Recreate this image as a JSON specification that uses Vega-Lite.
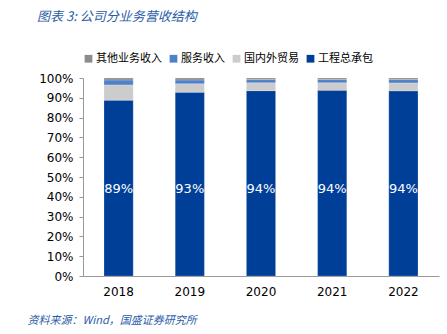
{
  "$schema": "https://vega.github.io/schema/vega-lite/v6.json",
  "width": 356,
  "height": 198,
  "autosize": {"type": "none"},
  "padding": {"left": 83, "top": 78, "right": 8, "bottom": 58},
  "background": "white",
  "config": {
    "view": {"stroke": null},
    "font": "DejaVu Sans",
    "axisY": {
      "labelOverlap": false,
      "grid": false,
      "domainColor": "#999999",
      "tickColor": "#999999",
      "tickSize": 4,
      "labelFontSize": 12,
      "labelColor": "#000000",
      "labelPadding": 6
    }
  },
  "title": {
    "text": "图表 3:  公司分业务营收结构",
    "anchor": "start",
    "frame": "group",
    "dx": -46,
    "offset": 29,
    "font": "Noto Sans CJK SC",
    "fontSize": 13,
    "fontStyle": "italic",
    "fontWeight": "normal",
    "color": "#2B5DA8"
  },
  "data": {
    "values": [
      {"year": "2018", "cat": "工程总承包", "v": 0.888},
      {"year": "2018", "cat": "国内外贸易", "v": 0.077},
      {"year": "2018", "cat": "服务收入", "v": 0.025},
      {"year": "2018", "cat": "其他业务收入", "v": 0.010},
      {"year": "2019", "cat": "工程总承包", "v": 0.928},
      {"year": "2019", "cat": "国内外贸易", "v": 0.043},
      {"year": "2019", "cat": "服务收入", "v": 0.019},
      {"year": "2019", "cat": "其他业务收入", "v": 0.010},
      {"year": "2020", "cat": "工程总承包", "v": 0.936},
      {"year": "2020", "cat": "国内外贸易", "v": 0.040},
      {"year": "2020", "cat": "服务收入", "v": 0.016},
      {"year": "2020", "cat": "其他业务收入", "v": 0.008},
      {"year": "2021", "cat": "工程总承包", "v": 0.938},
      {"year": "2021", "cat": "国内外贸易", "v": 0.038},
      {"year": "2021", "cat": "服务收入", "v": 0.016},
      {"year": "2021", "cat": "其他业务收入", "v": 0.008},
      {"year": "2022", "cat": "工程总承包", "v": 0.935},
      {"year": "2022", "cat": "国内外贸易", "v": 0.040},
      {"year": "2022", "cat": "服务收入", "v": 0.017},
      {"year": "2022", "cat": "其他业务收入", "v": 0.008}
    ]
  },
  "transform": [
    {"calculate": "indexof(['工程总承包','国内外贸易','服务收入','其他业务收入'], datum.cat)", "as": "ord"}
  ],
  "encoding": {
    "x": {
      "field": "year",
      "type": "nominal",
      "scale": {"paddingInner": 0.59, "paddingOuter": 0.295},
      "axis": {
        "labelAngle": 0,
        "ticks": false,
        "domainColor": "#999999",
        "labelFontSize": 12,
        "labelColor": "#000000",
        "labelPadding": 10,
        "title": "资料来源：Wind，国盛证券研究所",
        "titleFont": "Noto Sans CJK SC",
        "titleFontSize": 11,
        "titleFontStyle": "italic",
        "titleFontWeight": "normal",
        "titleColor": "#2B5DA8",
        "titleAnchor": "start",
        "titleAlign": "left",
        "titleX": -56,
        "titleY": 38
      }
    }
  },
  "layer": [
    {
      "mark": {"type": "bar", "stroke": "#ffffff", "strokeWidth": 0.5, "strokeOpacity": 0.4},
      "encoding": {
        "y": {
          "field": "v",
          "type": "quantitative",
          "stack": "zero",
          "scale": {"domain": [0, 1], "nice": false},
          "axis": {
            "format": ".0%",
            "values": [0, 0.1, 0.2, 0.3, 0.4, 0.5, 0.6, 0.7, 0.8, 0.9, 1],
            "title": null
          }
        },
        "color": {
          "field": "cat",
          "type": "nominal",
          "scale": {
            "domain": ["其他业务收入", "服务收入", "国内外贸易", "工程总承包"],
            "range": ["#8C8C8C", "#4F81C8", "#CCCCCC", "#003F98"]
          },
          "legend": {
            "orient": "top",
            "direction": "horizontal",
            "title": null,
            "symbolType": "square",
            "symbolSize": 60,
            "symbolStrokeWidth": 0,
            "labelFont": "Noto Sans CJK SC",
            "labelFontSize": 11,
            "labelColor": "#000000",
            "columnPadding": 6,
            "labelOffset": 2,
            "offset": 14,
            "padding": 0
          }
        },
        "order": {"field": "ord", "type": "quantitative", "sort": "ascending"}
      }
    },
    {
      "transform": [{"filter": "datum.cat === '工程总承包'"}],
      "mark": {"type": "text", "color": "#ffffff", "fontSize": 13, "baseline": "middle"},
      "encoding": {
        "y": {
          "datum": 0.44,
          "type": "quantitative",
          "axis": {
            "format": ".0%",
            "values": [0, 0.1, 0.2, 0.3, 0.4, 0.5, 0.6, 0.7, 0.8, 0.9, 1],
            "title": null
          }
        },
        "text": {"field": "v", "type": "quantitative", "format": ".0%"}
      }
    }
  ]
}
